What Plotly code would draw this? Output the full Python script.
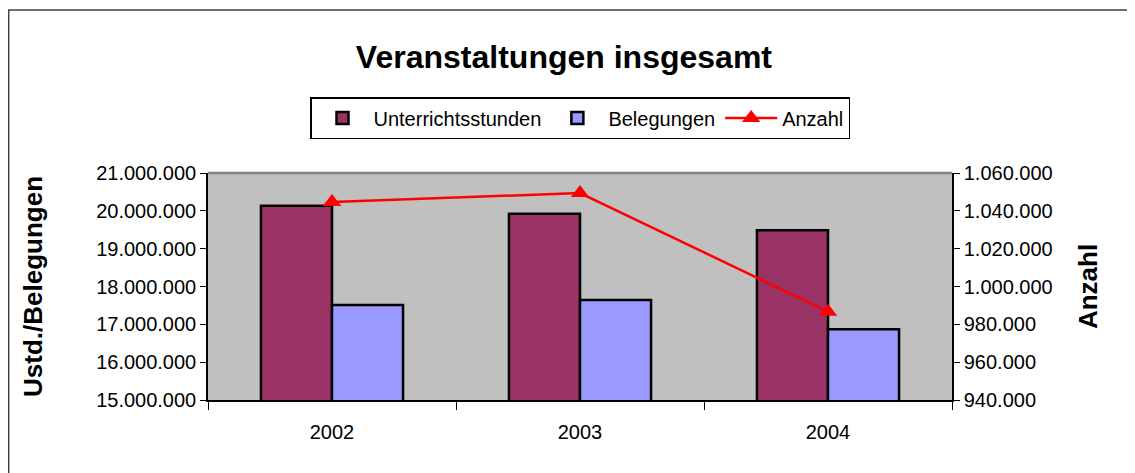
import plotly.graph_objects as go

years = ["2002", "2003", "2004"]
unterrichtsstunden = [20135000, 19920000, 19490000]
belegungen = [17510000, 17640000, 16870000]
anzahl = [1044700, 1049400, 986700]

# page has an 8px body margin; work in figure coordinates
OFF = 8
W, H = 1135 - OFF, 473 - OFF
L, R, T, B = 208 - OFF, 952 - OFF, 173 - OFF, 400 - OFF

fig = go.Figure()
fig.add_trace(go.Bar(x=years, y=unterrichtsstunden, name="Unterrichtsstunden",
                     marker=dict(color="#993366", line=dict(color="black", width=2.5)),
                     yaxis="y"))
fig.add_trace(go.Bar(x=years, y=belegungen, name="Belegungen",
                     marker=dict(color="#9999FF", line=dict(color="black", width=2.5)),
                     yaxis="y"))
fig.add_trace(go.Scatter(x=years, y=anzahl, name="Anzahl", mode="lines+markers",
                         line=dict(color="#FF0000", width=2.5),
                         marker=dict(symbol="triangle-up", size=16, color="#FF0000"),
                         yaxis="y2"))

def px_x(p):
    return (p - OFF - L) / (R - L)

def px_y(p):
    return (B - (p - OFF)) / (B - T)

font_main = "Liberation Sans, Arial, sans-serif"

fig.update_layout(
    width=W, height=H,
    margin=dict(l=L, r=W - R, t=T, b=H - B, pad=0),
    paper_bgcolor="white",
    plot_bgcolor="#C0C0C0",
    font=dict(family=font_main, size=20, color="black"),
    separators=",.",
    barmode="group",
    bargap=0.427,
    bargroupgap=0,
    title=dict(text="<b>Veranstaltungen insgesamt</b>", x=px_x(575), xanchor="center",
               y=1 - (57 - OFF) / H, yanchor="middle", font=dict(size=32, family=font_main)),
    legend=dict(orientation="h", x=px_x(580), xanchor="center", y=px_y(97), yanchor="top",
                bgcolor="white", bordercolor="black", borderwidth=1.5,
                font=dict(size=20, family=font_main), itemwidth=52, tracegroupgap=0),
    showlegend=True,
    xaxis=dict(type="category", showgrid=False, showline=True, linecolor="black", linewidth=1.5,
               ticks="outside", tickson="boundaries", ticklen=8, tickcolor="black",
               tickfont=dict(size=20), ticklabelstandoff=13, zeroline=False),
    yaxis=dict(range=[15000000, 21000000], dtick=1000000, tickformat=",.0f",
               showgrid=False, showline=True, linecolor="black", linewidth=1.5,
               ticks="outside", ticklen=6, tickcolor="black", zeroline=False,
               tickfont=dict(size=20),
               title=dict(text="<b>Ustd./Belegungen</b>", font=dict(size=26), standoff=46)),
    yaxis2=dict(range=[940000, 1060000], dtick=20000, tickformat=",.0f",
                overlaying="y", side="right", showgrid=False, showline=True,
                linecolor="black", linewidth=1.5, ticks="outside", ticklen=6,
                tickcolor="black", zeroline=False, tickfont=dict(size=20),
                title=dict(text="<b>Anzahl</b>", font=dict(size=26), standoff=27)),
    shapes=[
        dict(type="line", xref="paper", yref="paper", x0=0, x1=1, y0=1, y1=1,
             line=dict(color="#808080", width=2.5)),
        dict(type="rect", xref="paper", yref="paper",
             x0=px_x(8.7), x1=px_x(1145), y0=px_y(10), y1=px_y(490),
             line=dict(color="#404040", width=1.5), fillcolor="rgba(0,0,0,0)"),
    ],
)

fig.write_html("out.html")
